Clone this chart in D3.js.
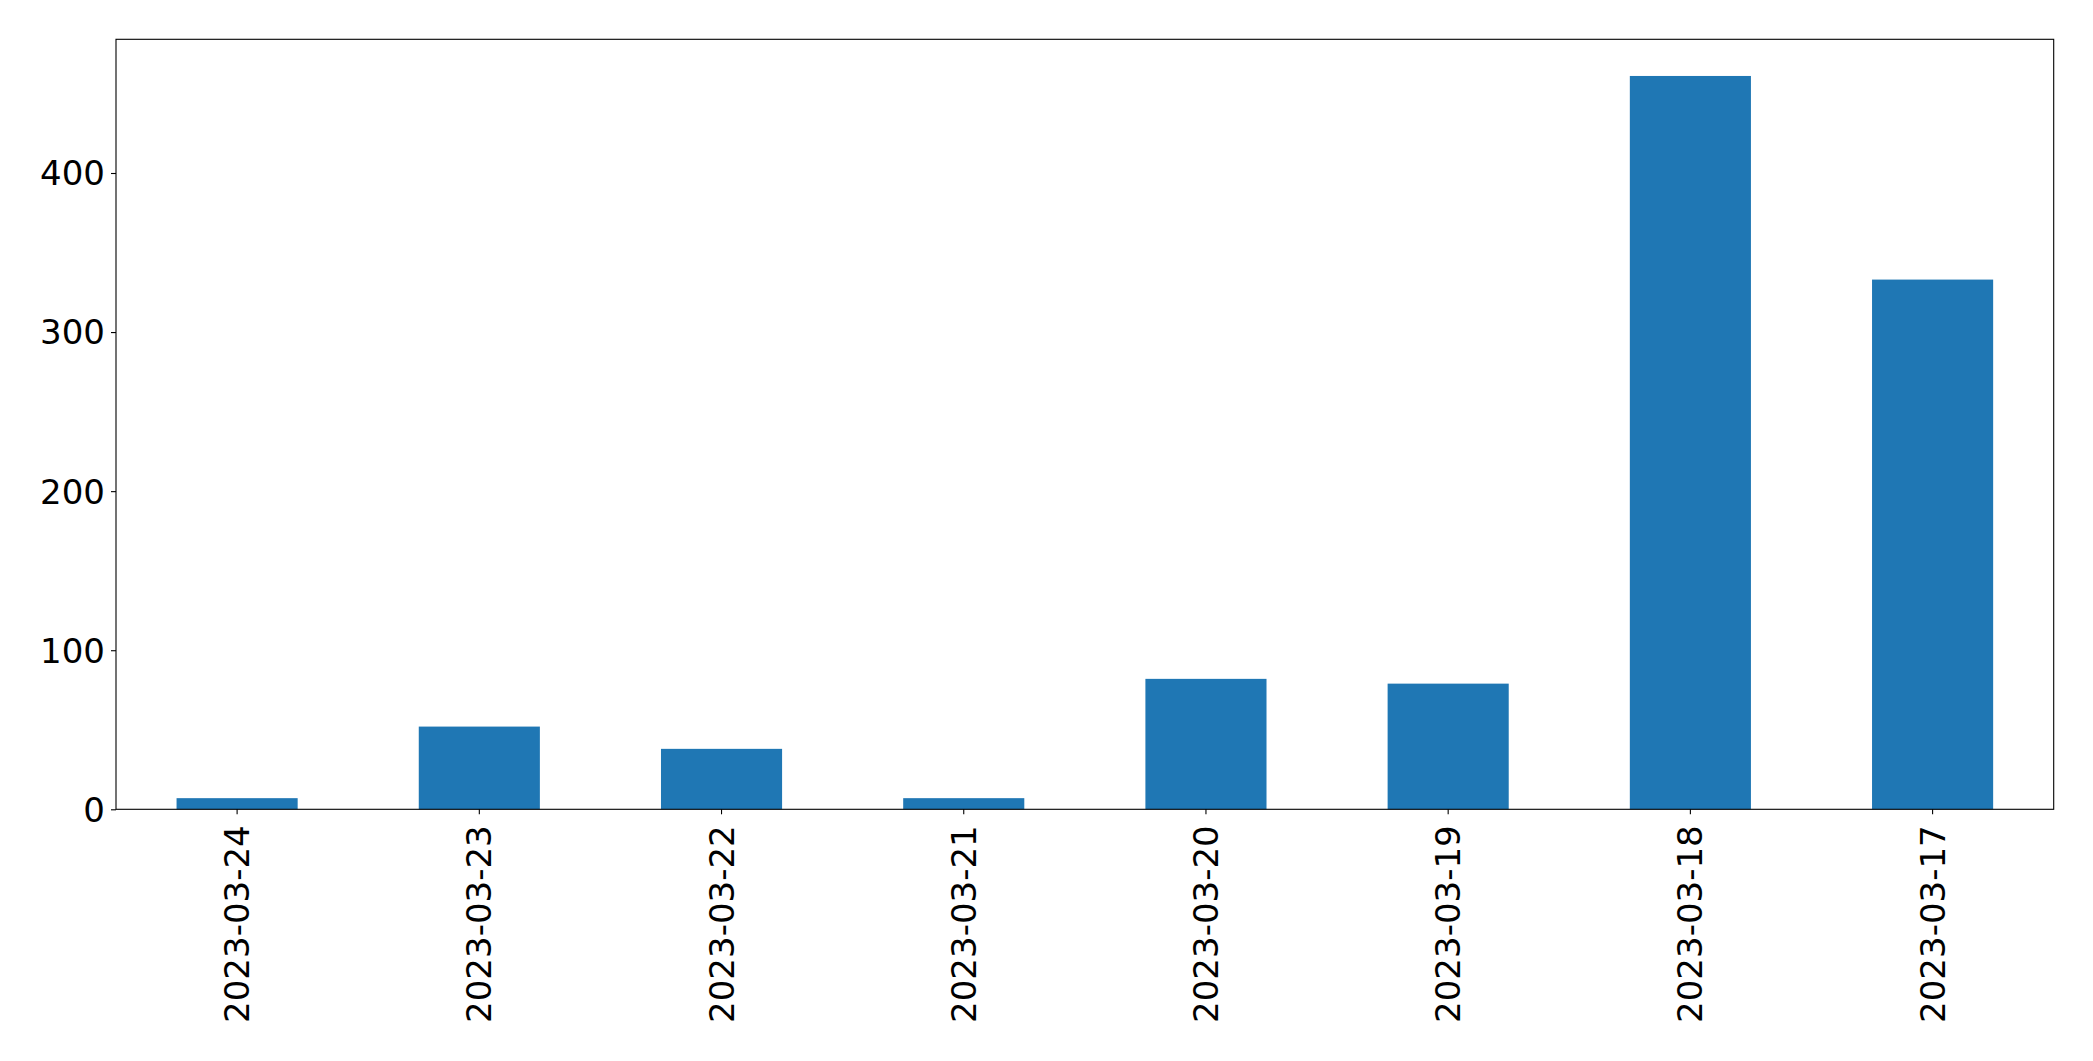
<!DOCTYPE html>
<html>
<head>
<meta charset="utf-8">
<script src="https://cdn.jsdelivr.net/npm/d3@7"></script>
<style>
html,body{margin:0;padding:0;background:#fff;}
svg{display:block;}
</style>
</head>
<body>
<script>
const categories = ["2023-03-24","2023-03-23","2023-03-22","2023-03-21","2023-03-20","2023-03-19","2023-03-18","2023-03-17"];
const values = [7, 52, 38, 7, 82, 79, 461, 333];
const yTicks = [0, 100, 200, 300, 400];

const W = 2093, H = 1061;
const m = {left: 116, right: W - 2053.7, top: 39.3, bottom: H - 809.3};
const iw = W - m.left - m.right, ih = H - m.top - m.bottom;

const svg = d3.select("body").append("svg").attr("width", W).attr("height", H);
const g = svg.append("g").attr("transform", `translate(${m.left},${m.top})`);

const x = d3.scaleBand().domain(categories).range([0, iw]).paddingInner(0.5).paddingOuter(0.25);
const y = d3.scaleLinear().domain([0, d3.max(values) * 1.05]).range([ih, 0]);

g.selectAll("rect.bar").data(values).join("rect")
  .attr("class", "bar")
  .attr("x", (d, i) => x(categories[i]))
  .attr("width", x.bandwidth())
  .attr("y", d => y(d))
  .attr("height", d => ih - y(d))
  .attr("fill", "#1f77b4");

const font = "'DejaVu Sans', sans-serif";
const fs = 34;

const yAxis = g.append("g").call(d3.axisLeft(y).tickValues(yTicks).tickSize(5).tickPadding(6).tickFormat(d3.format("d")));
yAxis.select(".domain").remove();
yAxis.selectAll("text").style("font-family", font).style("font-size", fs + "px").attr("fill", "#000").attr("dy", "0.35em");
yAxis.selectAll("line").attr("stroke", "#000").attr("stroke-width", 1.1);

const xAxis = g.append("g").attr("transform", `translate(0,${ih})`).call(d3.axisBottom(x).tickSize(5).tickPadding(0));
xAxis.select(".domain").remove();
xAxis.selectAll("line").attr("stroke", "#000").attr("stroke-width", 1.1);
xAxis.selectAll("text")
  .style("font-family", font).style("font-size", fs + "px").attr("fill", "#000")
  .attr("text-anchor", "end")
  .attr("dy", null)
  .attr("transform", "translate(0,16) rotate(-90)")
  .attr("x", 0).attr("y", 0)
  .attr("dominant-baseline", "central");

g.append("rect").attr("x", 0).attr("y", 0).attr("width", iw).attr("height", ih)
  .attr("fill", "none").attr("stroke", "#000").attr("stroke-width", 1.1);
</script>
</body>
</html>
